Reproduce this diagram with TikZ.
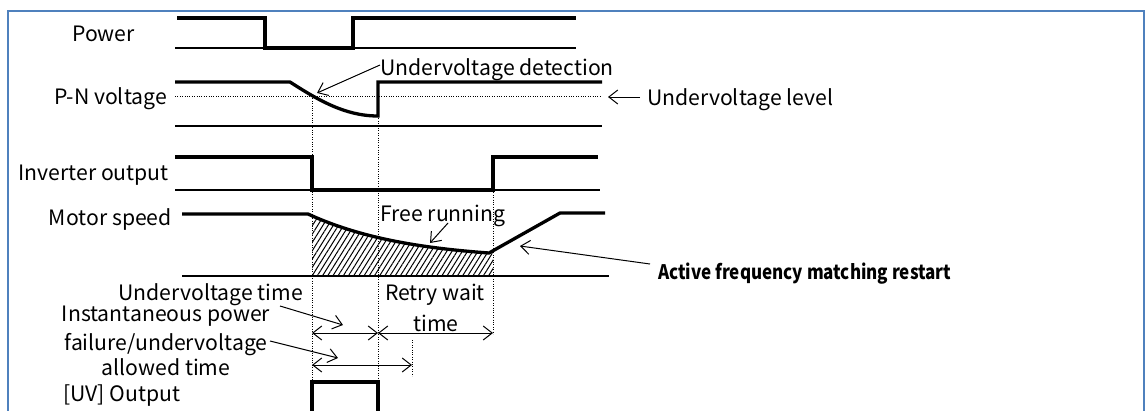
\documentclass[tikz,border=0pt]{standalone}
\usepackage{fontspec}
\setmainfont{Noto Sans CJK JP}
\newfontfamily\afmfont{Noto Sans CJK JP}[FakeStretch=0.85]
\usetikzlibrary{arrows.meta,patterns.meta}
\definecolor{frameblue}{RGB}{79,129,189}
\begin{document}
\begin{tikzpicture}[x=1pt,y=-1pt,
  sig/.style={line width=3.3pt, line join=miter},
  base/.style={line width=1.1pt},
  guide/.style={line width=0.8pt, dash pattern=on 0.8pt off 1.6pt},
  lbl/.style={font=\fontsize{21.2}{25}\selectfont, inner sep=0pt},
  barb/.style={-{Straight Barb[length=9pt,width=14pt,line width=1pt]}, line width=1pt},
  dbl/.style={{Straight Barb[length=9pt,width=14pt,line width=1pt]}-{Straight Barb[length=9pt,width=14pt,line width=1pt]}, line width=1pt}
]
\useasboundingbox (0,0) rectangle (1146,410);
\draw[frameblue, line width=2pt] (8,430) -- (8,11) -- (1144,11) -- (1144,430);

% Power
\draw[base] (175,48) -- (576,48);
\draw[sig] (177,18) -| (265,48) -| (353,18) -- (576,18);

% P-N voltage
\draw[base] (175,126) -- (602,126);
\draw[guide] (175,96) -- (602,96);
\draw[sig] (175,82) -- (290,82) .. controls (318,100) and (345,116) .. (378,116) -- (378,82) -- (602,82);

% Inverter output
\draw[base] (175,190) -- (600,190);
\draw[sig] (175,157) -| (312,190) -| (493,157) -- (598,157);

% Motor speed
\begin{scope}
\clip (312,200) rectangle (493,276);
\fill[pattern={Lines[angle=58,distance=4.4pt,line width=1pt]}] (308,214) .. controls (360,238) and (420,248) .. (489,253) -- (493,253) -- (493,276) -- (308,276) -- cycle;
\end{scope}
\draw[base] (182,276) -- (609,276);
\draw[sig] (182,214) -- (308,214) .. controls (360,238) and (420,248) .. (489,253) -- (560,213) -- (605,213);

% guides
\draw[guide] (312,96) -- (312,382);
\draw[guide] (378,116) -- (378,382);
\draw[guide] (493,190) -- (493,334);
\draw[guide] (412,340) -- (412,376);

% time arrows
\coordinate (t1) at (312,333);
\coordinate (t2) at (378,333);
\coordinate (t3) at (493,333);
\coordinate (a1) at (312,365);
\coordinate (a2) at (412,365);
\draw[dbl] (t1) -- (t2);
\draw[dbl] (t2) -- (t3);
\draw[dbl] (a1) -- (a2);

% UV output
\draw[sig] (312,415) -- (312,382) -- (378,382) -- (378,415);

% labels (baseline = visual centre + 7.8)
\node[lbl, anchor=base east] (power) at (135,41) {Power};
\node[lbl, anchor=base east] (pn) at (167,104) {P-N voltage};
\node[lbl, anchor=base east] (inv) at (169,180) {Inverter output};
\node[lbl, anchor=base east] (motor) at (172,225) {Motor speed};
\node[lbl, anchor=base west] (udet) at (380,75) {Undervoltage detection};
\node[lbl, anchor=base west] (ulev) at (647,105) {Undervoltage level};
\node[lbl, anchor=base] (free) at (443,221) {Free running};
\node[lbl, anchor=base west, font=\fontsize{20}{24}\afmfont\bfseries] (afm) at (658,279) {Active frequency matching restart};
\node[lbl, anchor=base east] (uvt) at (303,300) {Undervoltage time};
\node[lbl, anchor=base] (rw1) at (435,300) {Retry wait};
\node[lbl, anchor=base] (rw2) at (436,331) {time};
\node[lbl, anchor=base] (ip1) at (166,321) {Instantaneous power};
\node[lbl, anchor=base] (ip2) at (166,350) {failure/undervoltage};
\node[lbl, anchor=base] (ip3) at (166,375) {allowed time};
\node[lbl, anchor=base west] (uvo) at (63,401) {[UV] Output};

% leaders
\coordinate (udetS) at (380,65);
\coordinate (udetT) at (317,93);
\draw[barb] (udetS) -- (udetT);
\coordinate (ulevS) at (640,97);
\coordinate (ulevT) at (608,97);
\draw[barb] (ulevS) -- (ulevT);
\coordinate (freeS) at (448,223);
\coordinate (freeT) at (430,243);
\draw[barb] (freeS) -- (freeT);
\coordinate (afmS) at (650,264);
\coordinate (afmT) at (520,246);
\draw[barb] (afmS) -- (afmT);
\coordinate (uvtS) at (280,306);
\coordinate (uvtT) at (343,325);
\draw[barb] (uvtS) -- (uvtT);
\coordinate (ipS) at (270,341);
\coordinate (ipT) at (338,358);
\draw[barb] (ipS) -- (ipT);
\end{tikzpicture}
\end{document}
